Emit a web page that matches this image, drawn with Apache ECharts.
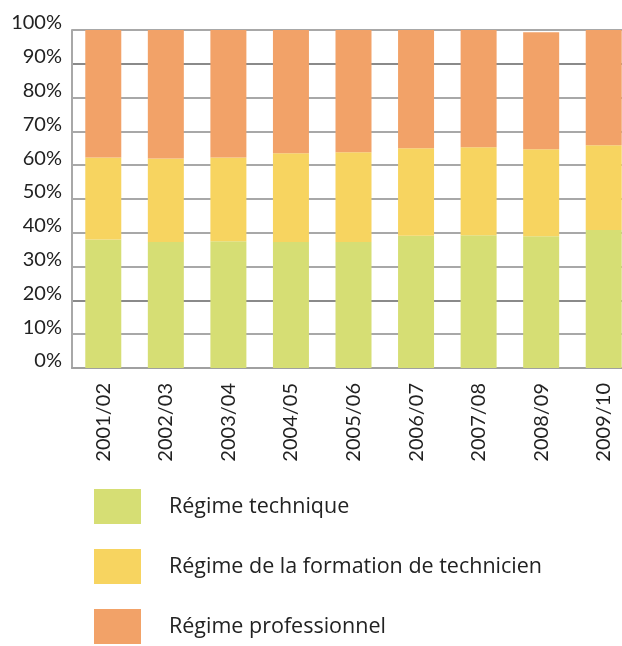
<html>
    <head>
        <meta charset='utf-8'>
        <script src='https://cdn.jsdelivr.net/npm/echarts@6/dist/echarts.min.js'></script>
    </head>
    <body style="margin:0">
        <style>
            html, body, #main {
                width: 622px;
                height: 646px;
                margin: 0;
            }
        </style>
        <div id='main'></div>
        <script>
            var years = ['2001/02', '2002/03', '2003/04', '2004/05', '2005/06', '2006/07', '2007/08', '2008/09', '2009/10'];
            var technique = [38.0, 37.3, 37.5, 37.3, 37.3, 39.1, 39.3, 39.0, 40.8];
            var technicien = [24.3, 24.7, 24.8, 26.2, 26.5, 25.9, 26.0, 25.7, 25.1];
            var professionnel = [37.7, 38.0, 37.7, 36.5, 36.2, 35.0, 34.7, 34.6, 34.1];
            var seriesNames = ['Régime technique', 'Régime de la formation de technicien', 'Régime professionnel'];

            var colors = ['#d6de74', '#f7d460', '#f2a268'];
            // darker grid lines at 20% and 90%
            var gridColors = ['#a8a8a8', '#a8a8a8', '#8a8a8a', '#a8a8a8', '#a8a8a8', '#a8a8a8',
                '#a8a8a8', '#a8a8a8', '#a8a8a8', '#8a8a8a', '#a8a8a8'];

            var chart = echarts.init(document.getElementById('main'));
            var dataSets = [technique, technicien, professionnel];
            chart.setOption({
                animation: false,
                color: colors,
                textStyle: { fontFamily: 'Lato' },
                grid: {
                    left: 72,
                    width: 563,   // the last bar runs off the right edge in the original
                    top: 30,
                    bottom: 278,
                    outerBoundsMode: 'none'
                },
                legend: {
                    orient: 'vertical',
                    left: 94,
                    top: 489,
                    height: 160,
                    padding: 0,
                    icon: 'rect',
                    itemWidth: 47,
                    itemHeight: 35,
                    itemGap: 25,
                    textStyle: {
                        fontFamily: 'Open Sans',
                        fontSize: 21.5,
                        color: '#222',
                        padding: [0, 0, 0, 23]
                    },
                    data: seriesNames
                },
                xAxis: {
                    type: 'category',
                    data: years,
                    axisLine: { lineStyle: { color: '#a0a0a0', width: 2 } },
                    axisTick: { show: false },
                    axisLabel: {
                        rotate: 90,
                        margin: 15,
                        fontSize: 20,
                        color: '#222',
                        fontFamily: 'Lato'
                    }
                },
                yAxis: {
                    type: 'value',
                    min: 0,
                    max: 100,
                    interval: 10,
                    axisLine: { show: true, lineStyle: { color: '#a8a8a8', width: 2 } },
                    axisTick: { show: false },
                    splitLine: { lineStyle: { color: gridColors, width: 2 } },
                    axisLabel: {
                        formatter: '{value}%',
                        fontSize: 20,
                        color: '#222',
                        margin: 10,
                        verticalAlign: 'bottom',
                        lineHeight: 14
                    }
                },
                series: dataSets.map(function (d, i) {
                    return {
                        name: seriesNames[i],
                        type: 'bar',
                        stack: 'total',
                        barWidth: 36,
                        data: d
                    };
                })
            });
        </script>
    </body>
</html>
